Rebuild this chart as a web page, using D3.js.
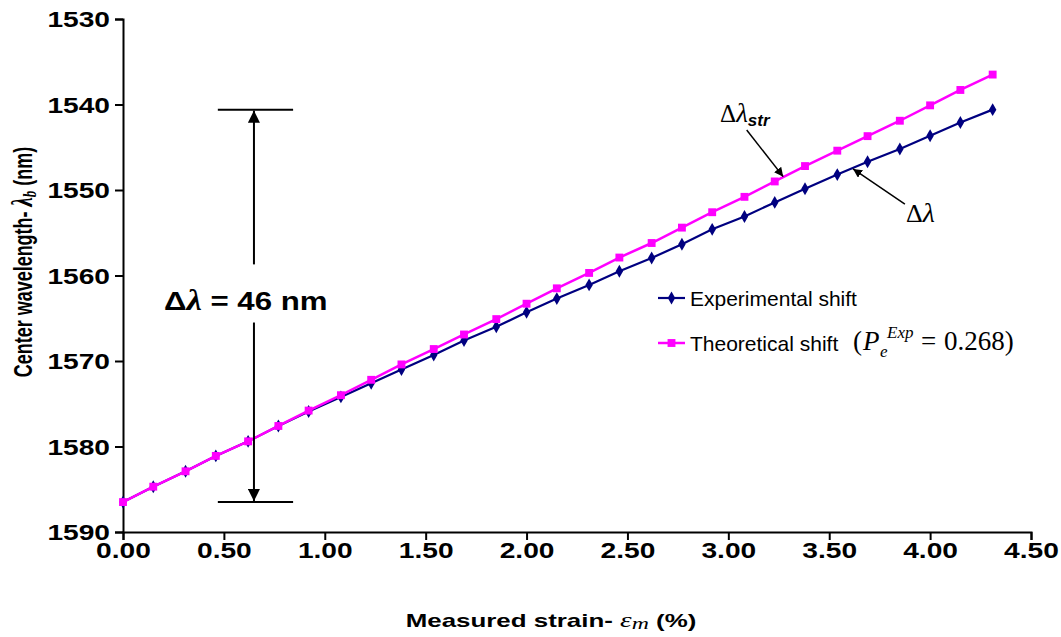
<!DOCTYPE html>
<html><head><meta charset="utf-8">
<script src="https://cdn.jsdelivr.net/npm/d3@7"></script>
<style>body{margin:0;background:#fff}svg{display:block}</style>
</head><body><svg id="c" width="1061" height="637"></svg>
<script>
// ---- data ----
const strain = [0.00,0.15,0.31,0.46,0.62,0.77,0.92,1.08,1.23,1.38,1.54,1.69,1.85,2.00,2.15,2.31,2.46,2.62,2.77,2.92,3.08,3.23,3.38,3.54,3.69,3.85,4.00,4.15,4.31];
const experimental = [1586.5,1584.7,1582.9,1581.1,1579.4,1577.6,1575.9,1574.2,1572.6,1571.0,1569.3,1567.6,1566.0,1564.3,1562.7,1561.1,1559.5,1557.95,1556.35,1554.6,1553.1,1551.45,1549.85,1548.2,1546.7,1545.2,1543.65,1542.1,1540.6];
const theoretical = [1586.5,1584.7,1582.9,1581.1,1579.4,1577.6,1575.8,1574.0,1572.2,1570.4,1568.6,1566.9,1565.1,1563.3,1561.5,1559.7,1557.9,1556.2,1554.4,1552.6,1550.8,1549.0,1547.2,1545.4,1543.7,1541.9,1540.1,1538.3,1536.5];
const xTicks = [0,0.5,1,1.5,2,2.5,3,3.5,4,4.5];
const yTicks = [1530,1540,1550,1560,1570,1580,1590];
const seriesNames = ["Experimental shift","Theoretical shift"];
const colors = ["#000080","#FF00FF"];

const svg = d3.select("#c");
const x = d3.scaleLinear().domain([0,4.5]).range([123,1031]);
const y = d3.scaleLinear().domain([1530,1590]).range([19,532]);
const SANS = "'Liberation Sans', Arial, sans-serif";
const SERIF = "'Liberation Serif', 'Times New Roman', serif";
const TSX = 1.28; // horizontal stretch of bold labels

// axes
const gx = svg.append("g").attr("transform","translate(0,532)")
  .call(d3.axisBottom(x).tickValues(xTicks).tickSize(8).tickFormat(d3.format(".2f")));
const gy = svg.append("g").attr("transform","translate(123,0)")
  .call(d3.axisLeft(y).tickValues(yTicks).tickSize(8).tickFormat(d3.format("d")));
[gx,gy].forEach(g=>{
  g.select(".domain").attr("stroke","#000").attr("stroke-width",2);
  g.selectAll(".tick line").attr("stroke","#000").attr("stroke-width",2);
  g.selectAll(".tick text").attr("fill","#000").style("font-family",SANS)
   .style("font-weight","bold").style("font-size","22px");
});
gx.selectAll(".tick text").attr("y",0).attr("dy",0).attr("transform",`translate(0,25.5) scale(${TSX},1)`);
gy.selectAll(".tick text").attr("x",0).attr("dy","0.35em").attr("text-anchor","end")
  .attr("transform",`translate(-13,0) scale(${TSX},1)`);

// axis titles
const xt = svg.append("text").attr("transform","translate(551,627) scale(1.4,1)")
  .attr("text-anchor","middle").style("font-family",SANS).style("font-weight","bold").style("font-size","18.5px");
xt.append("tspan").text("Measured strain- ");
xt.append("tspan").style("font-family",SERIF).style("font-style","italic").style("font-weight","normal").style("font-size","21px").text("ε");
xt.append("tspan").style("font-family",SERIF).style("font-style","italic").style("font-weight","normal").style("font-size","17px").attr("dy",2).text("m");
xt.append("tspan").attr("dy",-2).text(" (%)");

const yt = svg.append("text").attr("transform","translate(32,262) scale(1.43,1) rotate(-90)")
  .attr("text-anchor","middle").style("font-family",SANS).style("font-weight","bold").style("font-size","18px");
yt.append("tspan").text("Center wavelength- ");
yt.append("tspan").style("font-family",SERIF).style("font-style","italic").style("font-size","21px").text("λ");
yt.append("tspan").style("font-family",SERIF).style("font-style","italic").style("font-size","13px").attr("dy",3).text("b");
yt.append("tspan").attr("dy",-3).text(" (nm)");

// series
const series = [experimental, theoretical];
const line = d3.line().x((d,i)=>x(strain[i])).y(d=>y(d));
const symbols = [d3.symbol(d3.symbolDiamond,48), d3.symbol(d3.symbolSquare,62)];
series.forEach((s,k)=>{
  svg.append("path").datum(s).attr("d",line).attr("fill","none")
    .attr("stroke",colors[k]).attr("stroke-width",k?2.5:2.2);
  svg.append("g").selectAll("path").data(s).join("path")
    .attr("d",symbols[k]).attr("fill",colors[k])
    .attr("transform",(d,i)=>`translate(${x(strain[i])},${y(d)})`);
});

// legend
const legY = [298,343];
seriesNames.forEach((n,k)=>{
  svg.append("line").attr("x1",658).attr("x2",685).attr("y1",legY[k]).attr("y2",legY[k])
    .attr("stroke",colors[k]).attr("stroke-width",k?2.5:2.2);
  svg.append("path").attr("d",symbols[k]).attr("fill",colors[k]).attr("transform",`translate(671.5,${legY[k]})`);
  svg.append("text").attr("x",690).attr("y",legY[k]+7.5).style("font-family",SANS).style("font-size","21px").text(n);
});
const fm = (tx,ty,t,sz,it)=>svg.append("text").attr("x",tx).attr("y",ty).style("font-family",SERIF)
  .style("font-size",sz+"px").style("font-style",it?"italic":"normal").text(t);
fm(853,350,"(",27,false);
fm(863,350,"P",27,true);
fm(880,357,"e",17,true);
fm(887,338,"Exp",17,true);
fm(921,350,"=",27,false);
fm(944,350,"0.268)",27,false);

// arrowheads
const defs = svg.append("defs");
defs.append("marker").attr("id","ah").attr("viewBox","0 0 10 10").attr("refX",10).attr("refY",5)
  .attr("markerWidth",6).attr("markerHeight",6).attr("markerUnits","strokeWidth").attr("orient","auto")
  .append("path").attr("d","M0,0L10,5L0,10Z").attr("fill","#000");

// bracket Δλ = 46 nm
const bx = x(0.649), bTop = y(experimental[experimental.length-1]), bBot = y(experimental[0]);
svg.append("line").attr("x1",x(0.47)).attr("x2",x(0.843)).attr("y1",bTop).attr("y2",bTop).attr("stroke","#000").attr("stroke-width",2);
svg.append("line").attr("x1",x(0.47)).attr("x2",x(0.843)).attr("y1",bBot).attr("y2",bBot).attr("stroke","#000").attr("stroke-width",2);
svg.append("line").attr("x1",bx).attr("x2",bx).attr("y1",y(1558.7)).attr("y2",bTop+1).attr("stroke","#000").attr("stroke-width",2).attr("marker-end","url(#ah)");
svg.append("line").attr("x1",bx).attr("x2",bx).attr("y1",y(1565.5)).attr("y2",bBot-1).attr("stroke","#000").attr("stroke-width",2).attr("marker-end","url(#ah)");
const dt = svg.append("text").attr("transform",`translate(${x(0.203)},${y(1564)}) scale(1.2,1)`)
  .style("font-family",SANS).style("font-weight","bold").style("font-size","26px");
dt.append("tspan").text("Δ");
dt.append("tspan").style("font-family",SERIF).style("font-style","italic").style("font-size","29px").text("λ");
dt.append("tspan").text(" = 46 nm");

// Δλstr
svg.append("line").attr("x1",x(3.091)).attr("y1",y(1542.98)).attr("x2",x(3.272)).attr("y2",y(1548.44))
  .attr("stroke","#000").attr("stroke-width",1.5).attr("marker-end","url(#ah)");
const st = svg.append("text").attr("x",x(2.959)).attr("y",y(1542.1)).style("font-family",SERIF).style("font-size","25px");
st.append("tspan").text("Δ");
st.append("tspan").style("font-style","italic").style("font-size","27px").text("λ");
st.append("tspan").style("font-family",SANS).style("font-weight","bold").style("font-style","italic").style("font-size","17px").attr("dy",4).text("str");
// Δλ
svg.append("line").attr("x1",x(3.875)).attr("y1",y(1551.64)).attr("x2",x(3.618)).attr("y2",y(1547.54))
  .attr("stroke","#000").attr("stroke-width",1.5).attr("marker-end","url(#ah)");
const lt = svg.append("text").attr("x",x(3.88)).attr("y",y(1553.74)).style("font-family",SERIF).style("font-size","26px");
lt.append("tspan").text("Δ");
lt.append("tspan").style("font-style","italic").style("font-size","28px").text("λ");
</script></body></html>
